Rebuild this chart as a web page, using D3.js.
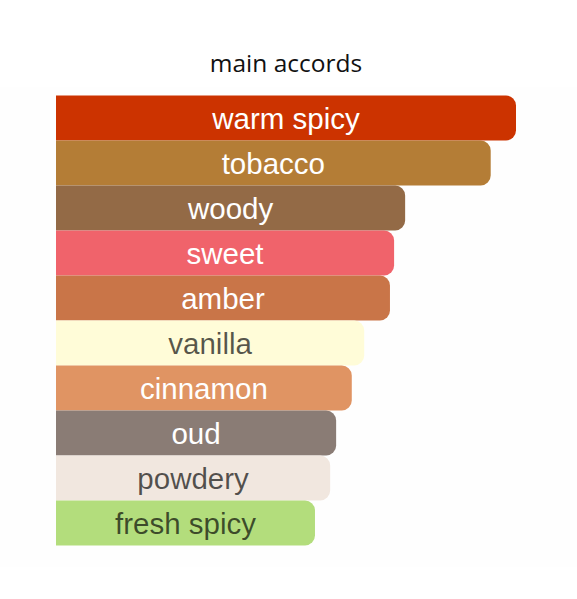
<!DOCTYPE html>
<html>
<head>
<meta charset="utf-8">
<script src="https://cdn.jsdelivr.net/npm/d3@7"></script>
<style>
  html, body { margin: 0; padding: 0; background: #ffffff; }
  svg { display: block; }
</style>
</head>
<body>
<svg id="chart" width="577" height="599"></svg>
<script>
const categories = ["warm spicy", "tobacco", "woody", "sweet", "amber", "vanilla", "cinnamon", "oud", "powdery", "fresh spicy"];
const values = [100, 94.5, 75.9, 73.5, 72.6, 67, 64.3, 60.9, 59.6, 56.3];
const colors = ["#cc3300", "#b47d36", "#936a46", "#f0636b", "#c97548", "#fffcd8", "#e09463", "#8a7c75", "#f1e7df", "#b3dd7c"];
const textDark = [false, false, false, false, false, true, false, false, true, true];
const title = "main accords";

const svg = d3.select("#chart");
const W = 577, H = 599;

svg.append("rect").attr("x", 0).attr("y", 87).attr("width", W).attr("height", 480).attr("fill", "#fefefe");

const left = 56;
const x = d3.scaleLinear().domain([0, 100]).range([0, 460]);
const y = d3.scaleBand().domain(categories).range([95.5, 545.5]).padding(0);

svg.append("text")
  .attr("x", 286).attr("y", 72)
  .attr("text-anchor", "middle")
  .attr("font-family", "'Open Sans', sans-serif")
  .attr("font-size", 24.5)
  .attr("fill", "#111")
  .text(title);

const r = 10;
function barPath(x0, y0, w, h) {
  return `M${x0},${y0} H${x0 + w - r} A${r},${r} 0 0 1 ${x0 + w},${y0 + r} V${y0 + h - r} A${r},${r} 0 0 1 ${x0 + w - r},${y0 + h} H${x0} Z`;
}

const data = categories.map((c, i) => ({ name: c, value: values[i], color: colors[i], dark: textDark[i] }));

const g = svg.append("g");
g.selectAll("path.bar").data(data).join("path")
  .attr("class", "bar")
  .attr("d", d => barPath(left, y(d.name), x(d.value), y.bandwidth()))
  .attr("fill", d => d.color);

g.selectAll("text.lbl").data(data).join("text")
  .attr("class", "lbl")
  .attr("x", d => left + x(d.value) / 2)
  .attr("y", d => y(d.name) + y.bandwidth() / 2 + 10.5)
  .attr("text-anchor", "middle")
  .attr("font-family", "'Liberation Sans', Arial, sans-serif")
  .attr("font-size", 29.5)
  .attr("fill", d => d.dark ? "#000" : "#fff")
  .attr("fill-opacity", d => d.dark ? 0.66 : 1)
  .text(d => d.name);
</script>
</body>
</html>
